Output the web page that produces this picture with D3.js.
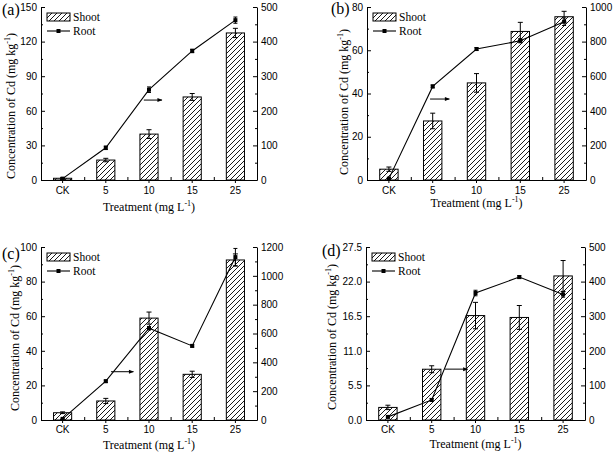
<!DOCTYPE html>
<html><head><meta charset="utf-8">
<script src="https://cdn.jsdelivr.net/npm/d3@7"></script>
<style>body{margin:0;background:#fff} svg{display:block}</style>
</head><body><svg id="c" width="614" height="452"></svg>
<script>
// ---------- data ----------
const categories = ["CK", "5", "10", "15", "25"];

const shootA = [1.5, 17.3, 39.8, 72.0, 127.5];
const shootErrA = [0.5, 1.5, 3.8, 3.0, 4.0];
const rootA = [4, 93, 261, 373, 462];
const rootErrA = [2, 5, 8, 5, 9];
const leftTicksA = [0, 30, 60, 90, 120, 150];
const rightTicksA = [0, 100, 200, 300, 400, 500];

const shootB = [5.0, 27.3, 44.9, 68.7, 75.5];
const shootErrB = [1.0, 3.6, 4.3, 4.2, 2.5];
const rootB = [8, 541, 757, 805, 915];
const rootErrB = [5, 8, 8, 12, 22];
const leftTicksB = [0, 20, 40, 60, 80];
const rightTicksB = [0, 200, 400, 600, 800, 1000];

const shootC = [4.2, 11.0, 58.9, 26.4, 92.5];
const shootErrC = [0.5, 1.5, 3.5, 1.8, 3.5];
const rootC = [8, 269, 637, 514, 1130];
const rootErrC = [4, 8, 12, 8, 60];
const leftTicksC = [0, 20, 40, 60, 80, 100];
const rightTicksC = [0, 200, 400, 600, 800, 1000, 1200];

const shootD = [2.0, 8.07, 16.6, 16.3, 22.9];
const shootErrD = [0.35, 0.55, 2.1, 1.9, 2.45];
const rootD = [9, 58, 367, 413, 363];
const rootErrD = [3, 4, 8, 4, 8];
const leftTicksD = [0, 5.5, 11.0, 16.5, 22.0, 27.5];
const rightTicksD = [0, 100, 200, 300, 400, 500];

const panelLabels = ["(a)", "(b)", "(c)", "(d)"];
const legendLabels = ["Shoot", "Root"];
const yTitle = ["Concentration of Cd (mg kg", "-1", ")"];
const xTitle = ["Treatment (mg L", "-1", ")"];

// arrows (category-index units, right-axis value)
const arrowX0 = [2.38, 1.44, 1.62, 1.80];
const arrowX1 = [2.80, 1.88, 2.14, 2.32];
const arrowY = [231, 468, 335, 147];

// ---------- layout ----------
const layout = [
  {l: 41, r: 257, t: 7, b: 180, labX: 2, labY: 15, ytX: 15, ytY: 106, xtY: 211, xpad: 4, fmt: d3.format("d")},
  {l: 367, r: 586, t: 7, b: 180, labX: 331, labY: 14, ytX: 348, ytY: 102, xtY: 207, xpad: 4, fmt: d3.format("d")},
  {l: 41, r: 257, t: 247, b: 420, labX: 2, labY: 259, ytX: 19, ytY: 338, xtY: 449, xpad: 3, fmt: d3.format("d")},
  {l: 366, r: 585, t: 247, b: 420, labX: 322, labY: 256, ytX: 336, ytY: 337, xtY: 448, xpad: 3, fmt: d3.format(".1f")}
];

const panels = [
  {shoot: shootA, se: shootErrA, root: rootA, re: rootErrA, lt: leftTicksA, rt: rightTicksA},
  {shoot: shootB, se: shootErrB, root: rootB, re: rootErrB, lt: leftTicksB, rt: rightTicksB},
  {shoot: shootC, se: shootErrC, root: rootC, re: rootErrC, lt: leftTicksC, rt: rightTicksC},
  {shoot: shootD, se: shootErrD, root: rootD, re: rootErrD, lt: leftTicksD, rt: rightTicksD}
];

const svg = d3.select("#c");
const defs = svg.append("defs");
defs.append("pattern").attr("id", "hatch").attr("patternUnits", "userSpaceOnUse")
  .attr("width", 5).attr("height", 5)
  .append("path").attr("d", "M-1,1 l2,-2 M0,5 l5,-5 M4,6 l2,-2")
  .attr("stroke", "#000").attr("stroke-width", 0.9);
defs.append("marker").attr("id", "arrow").attr("viewBox", "0 0 10 10")
  .attr("refX", 9).attr("refY", 5).attr("markerWidth", 6).attr("markerHeight", 5)
  .attr("markerUnits", "userSpaceOnUse").attr("orient", "auto")
  .append("path").attr("d", "M0,1 L10,5 L0,9 Z").attr("fill", "#000");

const tickFont = "'Liberation Sans', Arial, sans-serif";
const serif = "'Liberation Serif', 'Times New Roman', serif";

function titleText(g, parts) {
  g.append("tspan").text(parts[0]);
  g.append("tspan").attr("font-size", "8px").attr("dy", "-5").text(parts[1]);
  g.append("tspan").attr("dy", "5").text(parts[2]);
}

panels.forEach((p, i) => {
  const L = layout[i];
  const g = svg.append("g");
  const x = d3.scaleBand().domain(categories).range([L.l, L.r]).padding(0);
  const xi = d3.scaleLinear().domain([0, categories.length]).range([L.l, L.r]);
  const yL = d3.scaleLinear().domain([p.lt[0], p.lt[p.lt.length - 1]]).range([L.b, L.t]);
  const yR = d3.scaleLinear().domain([p.rt[0], p.rt[p.rt.length - 1]]).range([L.b, L.t]);
  const bw = x.bandwidth();
  const barW = bw * 0.42;
  const cx = c => x(c) + bw / 2;

  // bars
  g.selectAll(".bar").data(categories).join("rect")
    .attr("x", c => cx(c) - barW / 2)
    .attr("y", (c, j) => yL(p.shoot[j]))
    .attr("width", barW)
    .attr("height", (c, j) => yL(0) - yL(p.shoot[j]))
    .attr("fill", "url(#hatch)").attr("stroke", "#000").attr("stroke-width", 1);

  // shoot error bars
  categories.forEach((c, j) => {
    const y0 = yL(p.shoot[j] - p.se[j]), y1 = yL(p.shoot[j] + p.se[j]);
    const xc = cx(c);
    g.append("path").attr("d", `M${xc},${y0}V${y1}M${xc - 2.5},${y0}H${xc + 2.5}M${xc - 2.5},${y1}H${xc + 2.5}`)
      .attr("stroke", "#000").attr("stroke-width", 1).attr("fill", "none");
  });

  // root line
  const line = d3.line().x((v, j) => cx(categories[j])).y(v => yR(v));
  g.append("path").attr("d", line(p.root)).attr("fill", "none").attr("stroke", "#000").attr("stroke-width", 1.1);
  categories.forEach((c, j) => {
    const y0 = yR(p.root[j] - p.re[j]), y1 = yR(p.root[j] + p.re[j]);
    const xc = cx(c);
    g.append("path").attr("d", `M${xc},${y0}V${y1}M${xc - 2},${y0}H${xc + 2}M${xc - 2},${y1}H${xc + 2}`)
      .attr("stroke", "#000").attr("stroke-width", 1).attr("fill", "none");
  });
  g.selectAll(".mk").data(p.root).join("rect")
    .attr("x", (v, j) => cx(categories[j]) - 2).attr("y", v => yR(v) - 2)
    .attr("width", 4).attr("height", 4).attr("fill", "#000");

  // arrow
  g.append("line").attr("x1", xi(arrowX0[i])).attr("x2", xi(arrowX1[i]))
    .attr("y1", yR(arrowY[i])).attr("y2", yR(arrowY[i]))
    .attr("stroke", "#000").attr("stroke-width", 1).attr("marker-end", "url(#arrow)");

  // axes
  const styleAxis = a => {
    a.selectAll("path,line").attr("stroke", "#000").attr("stroke-width", 1);
    a.selectAll("text").attr("font-family", tickFont).attr("font-size", "10px").attr("fill", "#000");
  };
  const minorL = p.lt.slice(1).map((v, k) => (v + p.lt[k]) / 2);
  const minorR = p.rt.slice(1).map((v, k) => (v + p.rt[k]) / 2);

  g.append("g").attr("transform", `translate(${L.l},0)`)
    .call(d3.axisLeft(yL).tickValues(p.lt).tickFormat(L.fmt).tickSizeInner(-4).tickSizeOuter(0).tickPadding(4))
    .call(styleAxis);
  g.append("g").attr("transform", `translate(${L.l},0)`)
    .call(d3.axisLeft(yL).tickValues(minorL).tickFormat("").tickSizeInner(-2).tickSizeOuter(0))
    .call(a => a.select(".domain").remove()).call(styleAxis);
  g.append("g").attr("transform", `translate(${L.r},0)`)
    .call(d3.axisRight(yR).tickValues(p.rt).tickFormat(d3.format("d")).tickSizeInner(-4).tickSizeOuter(0).tickPadding(4))
    .call(styleAxis);
  g.append("g").attr("transform", `translate(${L.r},0)`)
    .call(d3.axisRight(yR).tickValues(minorR).tickFormat("").tickSizeInner(-2).tickSizeOuter(0))
    .call(a => a.select(".domain").remove()).call(styleAxis);
  g.append("g").attr("transform", `translate(0,${L.b})`)
    .call(d3.axisBottom(x).tickSizeInner(3).tickSizeOuter(0).tickPadding(L.xpad))
    .call(styleAxis);
  g.append("g").attr("transform", `translate(0,${L.b})`)
    .call(d3.axisBottom(xi).tickValues(d3.range(1, categories.length)).tickFormat("").tickSizeInner(-3).tickSizeOuter(0))
    .call(a => a.select(".domain").remove()).call(styleAxis);

  // titles
  const yt = g.append("text").attr("transform", `translate(${L.ytX},${L.ytY}) rotate(-90)`)
    .attr("text-anchor", "middle").attr("font-family", serif).attr("font-size", "12px");
  titleText(yt, yTitle);
  const xt = g.append("text").attr("x", (L.l + L.r) / 2).attr("y", L.xtY)
    .attr("text-anchor", "middle").attr("font-family", serif).attr("font-size", "12px");
  titleText(xt, xTitle);
  g.append("text").attr("x", L.labX).attr("y", L.labY).attr("font-family", serif)
    .attr("font-size", "16px").text(panelLabels[i]);

  // legend
  const lg = g.append("g").attr("transform", `translate(${L.l + 6},${L.t + 6})`);
  lg.append("rect").attr("width", 23).attr("height", 8).attr("fill", "url(#hatch)").attr("stroke", "#000");
  lg.append("text").attr("x", 26).attr("y", 8).attr("font-family", serif).attr("font-size", "11.5px").text(legendLabels[0]);
  lg.append("line").attr("x1", 0).attr("x2", 23).attr("y1", 18).attr("y2", 18).attr("stroke", "#000").attr("stroke-width", 1.1);
  lg.append("rect").attr("x", 9.5).attr("y", 16).attr("width", 4).attr("height", 4).attr("fill", "#000");
  lg.append("text").attr("x", 26).attr("y", 22).attr("font-family", serif).attr("font-size", "11.5px").text(legendLabels[1]);
});
</script></body></html>
